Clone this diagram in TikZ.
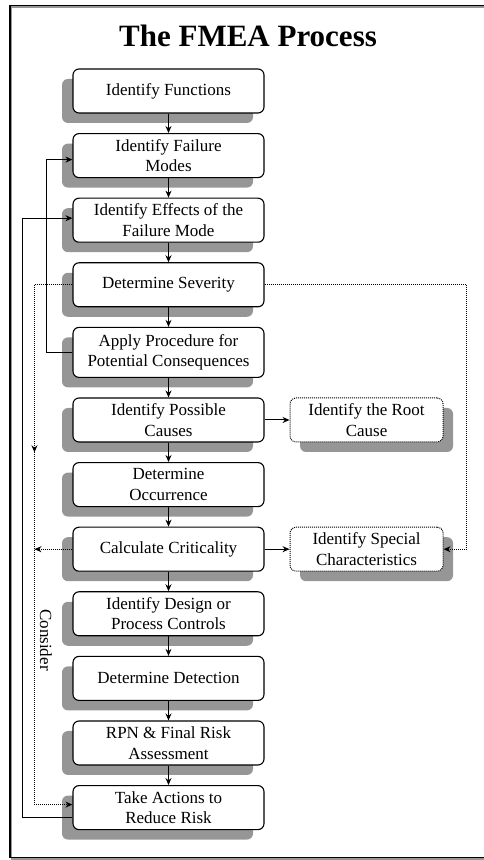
\documentclass[tikz,border=0pt]{standalone}
\usepackage{fontspec}
\setmainfont{Liberation Serif}
\usetikzlibrary{positioning,shadows,arrows.meta,calc}
\definecolor{boxshadow}{RGB}{150,150,150}
\begin{document}
\begin{tikzpicture} [
  x=1pt,y=1pt,
  node distance=19.5pt,
  >={Stealth[length=7pt,width=6pt]},
  step box/.style= {draw,line width=1.1pt,fill=white,rounded corners=6pt,minimum width=191pt,minimum height=44pt,align=center,inner sep=2pt,font=\fontsize{17}{20.5}\selectfont,drop shadow={shadow xshift=-11pt,shadow yshift=-10pt,fill=boxshadow,opacity=1}},
  side box/.style= {draw,densely dotted,line width=1pt,fill=white,rounded corners=6pt,minimum width=153pt,minimum height=44pt,align=center,inner sep=2pt,font=\fontsize{17}{20.5}\selectfont,drop shadow={shadow xshift=10pt,shadow yshift=-10pt,fill=boxshadow,opacity=1}},
  dot line/.style= {densely dotted,line width=1pt},
  flow/.style= {->,line width=1pt},
]
\useasboundingbox (0,0) rectangle (483,860);
\draw [boxshadow,line width=1.5pt] (495,853) -| (11.5,1) -- (495,1);
\draw [line width=1.5pt] (495,854.5) -| (10,2.5) -- (495,2.5);
\node (title) at (248,813) [anchor=base,font=\bfseries\fontsize{31}{36}\selectfont] {The FMEA Process};
\node (func) at (168.5,769) [step box] {Identify Functions};
\node (fail) [step box,below=of func] {Identify Failure\\Modes};
\node (effe) [step box,below=of fail] {Identify Effects of the\\Failure Mode};
\node (sev) [step box,below=of effe] {Determine Severity};
\node (apply) [step box,below=of sev,minimum height=50pt] {Apply Procedure for\\Potential Consequences};
\node (cause) [step box,below=of apply] {Identify Possible\\Causes};
\node (occur) [step box,below=of cause] {Determine\\Occurrence};
\node (crit) [step box,below=of occur] {Calculate Criticality};
\node (ctrl) [step box,below=of crit] {Identify Design or\\Process Controls};
\node (detect) [step box,below=of ctrl] {Determine Detection};
\node (rpn) [step box,below=of detect] {RPN \& Final Risk\\Assessment};
\node (act) [step box,below=of rpn] {Take Actions to\\Reduce Risk};
\node (root) [side box,right=25pt of cause] {Identify the Root\\Cause};
\node (spec) [side box,right=25pt of crit] {Identify Special\\Characteristics};
\node (consider) at (46,220) [rotate=-90,font=\fontsize{17}{20.5}\selectfont] {Consider};
\foreach \a/\b in {func/fail,fail/effe,effe/sev,sev/apply,apply/cause,cause/occur,occur/crit,crit/ctrl,ctrl/detect,detect/rpn,rpn/act}
  \draw [flow] (\a.south) -- (\b.north);
\draw [flow] (cause.east) -- (root.west);
\draw [flow] (crit.east) -- (spec.west);
\draw [flow] (apply.west) -- ++(-26,0) |- ([yshift=-4pt]fail.west);
\draw [flow] ([yshift=-10pt]act.west) -- ++(-50,0) |- ([yshift=2pt]effe.west);
\draw [dot line] (sev.west) -- ++(-38,0) coordinate (cl);
\coordinate (mid) at ($(cause.south)!.5!(occur.north)$);
\draw [dot line,->] (cl) -- (cl |- mid);
\draw [dot line,->] (cl |- mid) |- ([yshift=3pt]act.west);
\draw [dot line,->] (crit.west) -- (cl |- crit.west);
\draw [dot line] (sev.east) -- ++(202,0) coordinate (cr);
\draw [dot line,->] (cr) |- (spec.east);
\end{tikzpicture}
\end{document}
